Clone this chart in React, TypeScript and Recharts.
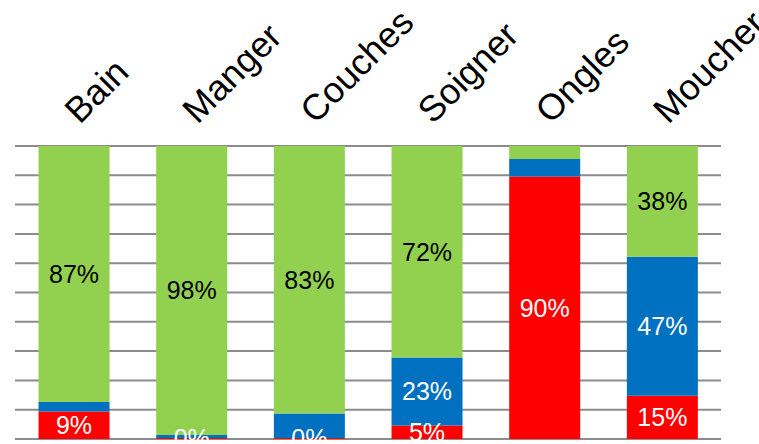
import { BarChart, Bar, XAxis, YAxis, CartesianGrid, LabelList } from "recharts";

// --- Data (raw shares, drawn as 100% stacked) ---
const CATEGORIES = ["Bain", "Manger", "Couches", "Soigner", "Ongles", "Moucher"];
const RED_VALUES = [9.4, 0.3, 0.3, 4.6, 89.6, 14.8];
const BLUE_VALUES = [3.2, 1.1, 7.6, 23.2, 6.0, 47.4];
const GREEN_VALUES = [87.4, 98.4, 83, 72.2, 4.4, 37.8];
const GRID_TICKS = [0, 0.1, 0.2, 0.3, 0.4, 0.5, 0.6, 0.7, 0.8, 0.9, 1];

const COLORS = {
  red: "#ff0000",
  blue: "#0070c0",
  green: "#92d050",
  grid: "#8c8c8c",
};

const FONT = "'Liberation Sans', Arial, sans-serif";

const data = CATEGORIES.map((name, i) => ({
  name,
  red: RED_VALUES[i],
  blue: BLUE_VALUES[i],
  green: GREEN_VALUES[i],
}));

// red labels always shown, the others only when the segment is big enough
const pctAll = (v: number) => `${Math.round(v)}%`;
const pctBig = (v: number) => (v >= 10 ? `${Math.round(v)}%` : "");

const LABEL_Y = 125;

function TopTick(props: any) {
  const { x, payload } = props;
  const tx = x + 6;
  return (
    <text
      x={tx}
      y={LABEL_Y}
      textAnchor="start"
      transform={`rotate(-45, ${tx}, ${LABEL_Y})`}
      fontSize={36}
      fontFamily={FONT}
      fill="#000"
    >
      {payload.value}
    </text>
  );
}

export default function App() {
  return (
    <div style={{ position: "absolute", left: 0, top: 0, width: 759, height: 444, background: "#fff" }}>
      <BarChart
        width={759}
        height={444}
        data={data}
        stackOffset="expand"
        barCategoryGap="20%"
        margin={{ top: 116, right: 38, left: 15, bottom: 5 }}
      >
        <CartesianGrid vertical={false} stroke={COLORS.grid} strokeWidth={2} />
        <XAxis
          dataKey="name"
          orientation="top"
          height={30}
          axisLine={false}
          tickLine={false}
          interval={0}
          tick={<TopTick />}
        />
        <YAxis hide domain={[0, 1]} ticks={GRID_TICKS} width={0} />
        <Bar dataKey="red" stackId="a" fill={COLORS.red} isAnimationActive={false}>
          <LabelList
            dataKey="red"
            position="center"
            formatter={pctAll}
            fill="#fff"
            fontSize={25}
            fontFamily={FONT}
          />
        </Bar>
        <Bar dataKey="blue" stackId="a" fill={COLORS.blue} isAnimationActive={false}>
          <LabelList
            dataKey="blue"
            position="center"
            formatter={pctBig}
            fill="#fff"
            fontSize={25}
            fontFamily={FONT}
          />
        </Bar>
        <Bar dataKey="green" stackId="a" fill={COLORS.green} isAnimationActive={false}>
          <LabelList
            dataKey="green"
            position="center"
            formatter={pctBig}
            fill="#000"
            fontSize={25}
            fontFamily={FONT}
          />
        </Bar>
      </BarChart>
    </div>
  );
}
